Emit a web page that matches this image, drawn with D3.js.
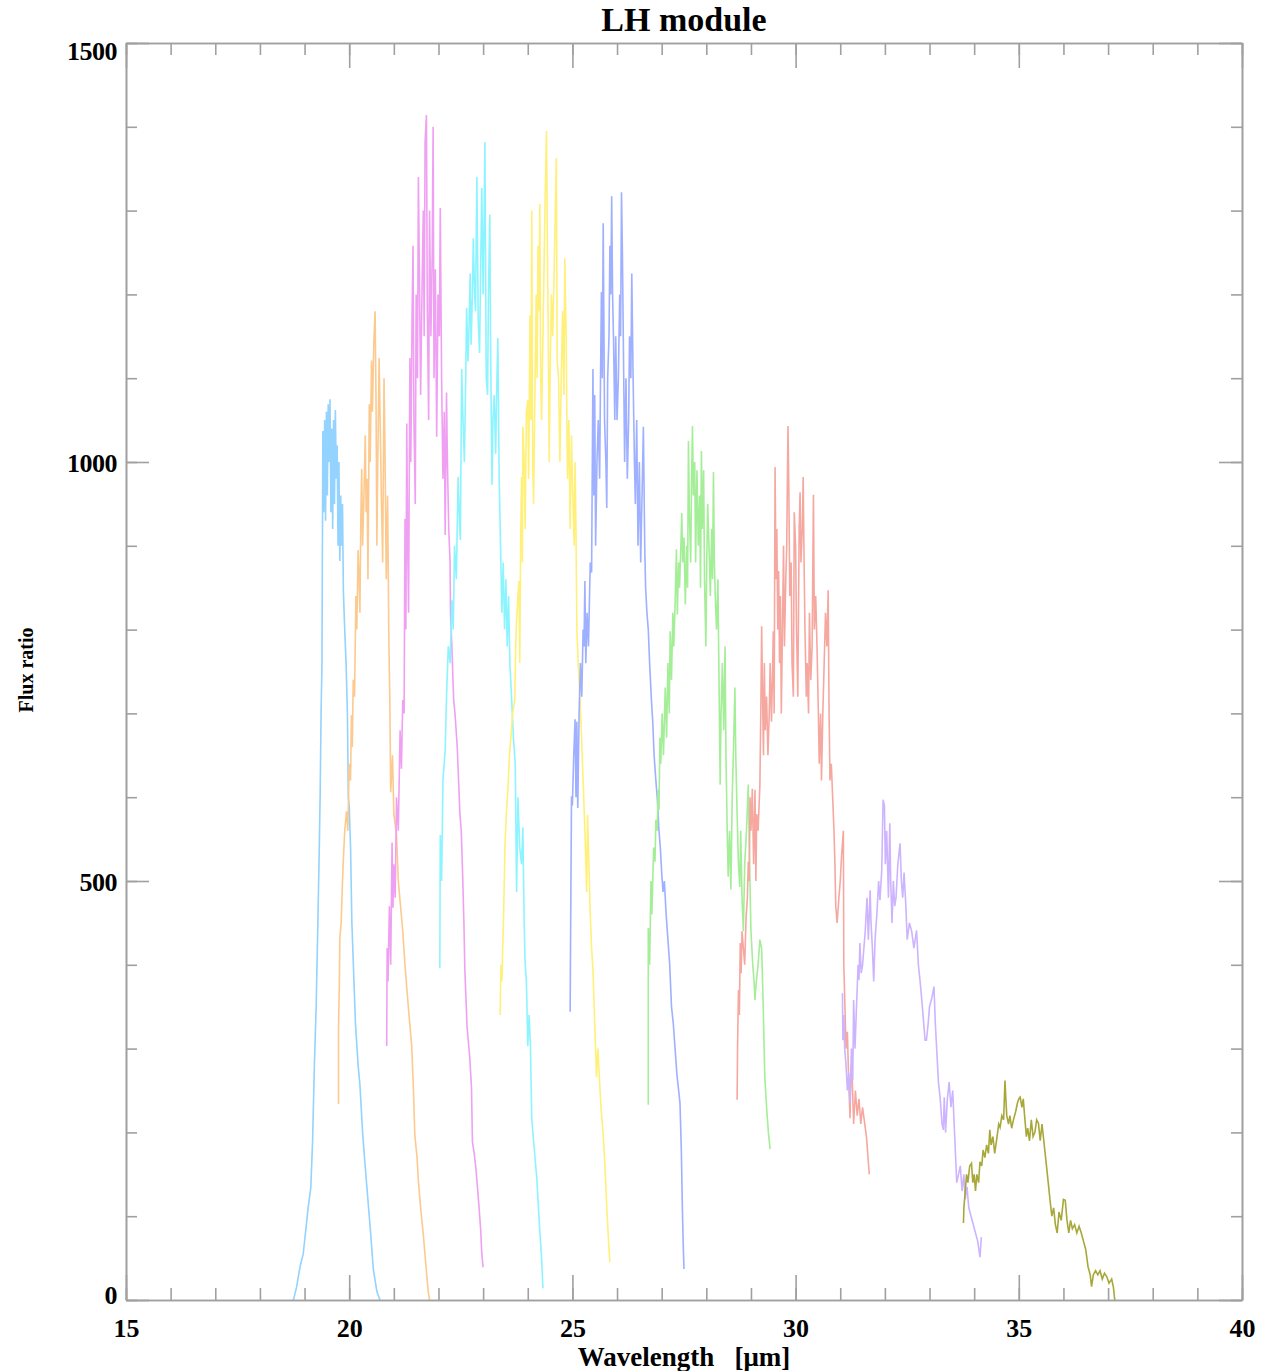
<!DOCTYPE html>
<html>
<head>
<meta charset="utf-8">
<script src="https://cdn.jsdelivr.net/npm/d3@7"></script>
<style>
  html, body { margin: 0; padding: 0; background: #ffffff; }
  svg { display: block; }
  text { font-family: "Liberation Serif", "DejaVu Serif", serif; font-weight: bold; fill: #000; }
</style>
</head>
<body>
<svg id="chart" width="1265" height="1371"></svg>
<script>
// ---------------- DATA ----------------
const titleText = "LH module";
const xTitle = "Wavelength   [\u03bcm]";
const yTitle = "Flux ratio";
const xTicks = [15, 20, 25, 30, 35, 40];
const yTicks = [0, 500, 1000, 1500];
const xDomain = [15, 40];
const yDomain = [0, 1500];

// spectral orders: [wavelength (um), flux ratio]
const order1 = [[18.75,0],[18.82,15],[18.9,40],[18.97,55],[19.02,80],[19.08,110],[19.14,134],[19.18,190],[19.22,280],[19.26,350],[19.3,455],[19.33,540],[19.35,606],[19.37,700],[19.39,760],[19.41,1037],[19.43,940],[19.45,1050],[19.47,930],[19.49,1060],[19.51,960],[19.53,1069],[19.55,1000],[19.57,1075],[19.59,940],[19.61,1040],[19.63,920],[19.65,1050],[19.67,950],[19.69,1062],[19.71,980],[19.73,1020],[19.75,900],[19.77,1000],[19.79,882],[19.81,960],[19.83,900],[19.85,950],[19.87,845],[19.9,800],[19.93,760],[19.96,700],[19.98,600],[20.0,590],[20.03,541],[20.06,450],[20.09,405],[20.14,330],[20.2,280],[20.24,257],[20.3,200],[20.35,165],[20.42,119],[20.48,80],[20.54,37],[20.62,10],[20.69,0]];
const order2 = [[19.76,234],[19.76,321],[19.78,380],[19.79,432],[19.82,450],[19.85,500],[19.87,527],[19.9,560],[19.94,583],[19.97,560],[20.0,640],[20.03,620],[20.05,698],[20.07,660],[20.09,740],[20.12,720],[20.15,840],[20.17,800],[20.2,895],[20.22,860],[20.24,820],[20.26,930],[20.28,992],[20.3,900],[20.33,960],[20.36,1032],[20.38,940],[20.4,980],[20.42,860],[20.45,1069],[20.47,1000],[20.5,1121],[20.52,1060],[20.55,1140],[20.58,1180],[20.6,1080],[20.62,900],[20.64,1000],[20.67,1124],[20.69,1060],[20.72,960],[20.75,880],[20.78,1100],[20.8,1024],[20.83,860],[20.86,960],[20.89,780],[20.91,716],[20.93,606],[20.97,650],[21.0,580],[21.06,555],[21.1,500],[21.15,470],[21.2,440],[21.25,400],[21.29,372],[21.34,340],[21.4,303],[21.44,250],[21.47,197],[21.52,170],[21.55,142],[21.6,110],[21.66,78],[21.72,40],[21.77,10],[21.8,0]];
const order3 = [[20.84,303],[20.85,420],[20.87,380],[20.9,470],[20.93,400],[20.96,546],[20.98,468],[21.0,520],[21.03,480],[21.06,600],[21.1,560],[21.14,680],[21.17,634],[21.2,716],[21.23,700],[21.25,932],[21.27,800],[21.29,1046],[21.31,900],[21.33,820],[21.36,1124],[21.38,1000],[21.41,1180],[21.43,1258],[21.45,1050],[21.48,950],[21.5,1200],[21.53,1100],[21.55,1340],[21.57,1240],[21.6,1080],[21.63,1200],[21.66,1300],[21.68,1150],[21.7,1382],[21.73,1414],[21.75,1180],[21.78,1050],[21.8,1300],[21.83,1150],[21.86,1250],[21.88,1400],[21.9,1100],[21.93,1230],[21.96,1030],[21.99,1200],[22.02,1150],[22.04,1303],[22.07,1100],[22.1,980],[22.13,1060],[22.15,913],[22.18,1083],[22.2,1000],[22.23,920],[22.26,880],[22.27,817],[22.3,780],[22.34,716],[22.37,700],[22.42,660],[22.44,634],[22.48,580],[22.51,560],[22.54,510],[22.57,450],[22.59,395],[22.64,326],[22.7,290],[22.74,253],[22.76,189],[22.8,175],[22.84,156],[22.88,130],[22.91,110],[22.95,80],[22.97,55],[23.0,39]];
const order4 = [[22.03,396],[22.04,555],[22.07,500],[22.1,620],[22.15,656],[22.18,720],[22.22,780],[22.26,760],[22.3,835],[22.33,800],[22.36,900],[22.4,860],[22.44,982],[22.47,930],[22.49,907],[22.52,1111],[22.55,1050],[22.58,1000],[22.61,1100],[22.63,1184],[22.66,1120],[22.68,1150],[22.71,1225],[22.73,1140],[22.76,1200],[22.78,1267],[22.81,1200],[22.83,1180],[22.86,1340],[22.89,1170],[22.92,1130],[22.95,1250],[22.97,1327],[23.0,1200],[23.02,1280],[23.04,1382],[23.07,1100],[23.1,1080],[23.12,1200],[23.15,1295],[23.17,1120],[23.2,973],[23.22,1050],[23.25,1080],[23.28,1010],[23.31,1100],[23.33,1148],[23.36,980],[23.39,900],[23.42,820],[23.45,880],[23.48,800],[23.51,860],[23.54,780],[23.57,840],[23.6,758],[23.64,716],[23.68,670],[23.72,640],[23.75,487],[23.78,600],[23.82,540],[23.86,520],[23.89,564],[23.92,450],[23.94,403],[23.97,380],[24.0,303],[24.03,340],[24.06,303],[24.09,216],[24.13,190],[24.17,165],[24.2,147],[24.24,110],[24.27,82],[24.31,50],[24.34,14]];
const order5 = [[23.38,340],[23.4,400],[23.42,380],[23.44,422],[23.46,463],[23.49,542],[23.52,580],[23.56,615],[23.59,650],[23.62,670],[23.66,700],[23.71,716],[23.73,780],[23.75,812],[23.78,840],[23.8,858],[23.82,760],[23.84,900],[23.86,982],[23.88,880],[23.89,1042],[23.92,1000],[23.94,920],[23.97,1060],[24.0,1074],[24.02,980],[24.05,1175],[24.07,1050],[24.09,1300],[24.11,1000],[24.13,950],[24.16,1080],[24.19,1200],[24.21,1100],[24.23,1258],[24.25,1180],[24.27,1308],[24.29,1100],[24.31,1050],[24.34,1150],[24.37,1250],[24.39,1317],[24.42,1395],[24.44,1250],[24.46,1150],[24.48,1000],[24.5,1100],[24.53,1200],[24.56,1150],[24.6,1250],[24.64,1363],[24.66,1120],[24.69,1100],[24.72,1000],[24.75,1100],[24.78,1180],[24.81,1080],[24.83,1243],[24.86,1150],[24.89,980],[24.92,1050],[24.95,920],[24.98,1032],[25.01,960],[25.04,900],[25.06,1000],[25.08,920],[25.1,800],[25.13,760],[25.17,716],[25.2,680],[25.24,620],[25.28,560],[25.32,487],[25.34,579],[25.37,520],[25.4,460],[25.43,420],[25.46,395],[25.5,330],[25.54,266],[25.57,300],[25.6,270],[25.64,230],[25.69,197],[25.73,160],[25.77,110],[25.81,70],[25.84,45]];
const order6 = [[24.95,344],[24.96,440],[24.97,520],[24.98,601],[25.0,590],[25.03,650],[25.06,693],[25.08,600],[25.1,690],[25.12,587],[25.15,700],[25.18,760],[25.21,720],[25.24,800],[25.26,780],[25.28,858],[25.3,760],[25.33,820],[25.36,780],[25.4,880],[25.43,868],[25.46,1111],[25.48,960],[25.5,1080],[25.52,900],[25.55,1000],[25.58,1050],[25.61,980],[25.63,1100],[25.65,1203],[25.67,1100],[25.69,1285],[25.72,1050],[25.75,1000],[25.77,945],[25.79,1100],[25.82,1150],[25.84,1258],[25.86,1200],[25.88,1317],[25.9,1200],[25.92,1150],[25.95,1050],[25.97,1150],[26.0,1050],[26.03,1100],[26.06,1200],[26.08,1150],[26.1,1322],[26.12,1250],[26.15,1100],[26.17,1000],[26.2,1100],[26.23,980],[26.26,1050],[26.28,1150],[26.31,1100],[26.33,1225],[26.36,1100],[26.39,1000],[26.41,950],[26.44,1050],[26.47,900],[26.5,1000],[26.53,880],[26.56,960],[26.59,1042],[26.62,900],[26.64,850],[26.67,820],[26.7,800],[26.73,760],[26.77,716],[26.8,690],[26.83,650],[26.87,620],[26.9,600],[26.94,560],[26.97,540],[27.0,510],[27.03,487],[27.06,500],[27.1,460],[27.14,430],[27.18,400],[27.22,350],[27.26,330],[27.3,300],[27.34,270],[27.38,250],[27.41,235],[27.44,180],[27.46,120],[27.48,70],[27.5,37]];
const order7 = [[26.7,233],[26.7,444],[26.73,400],[26.76,500],[26.78,460],[26.82,540],[26.85,523],[26.87,573],[26.9,560],[26.92,609],[26.94,585],[26.96,671],[26.98,640],[27.01,700],[27.04,650],[27.08,731],[27.11,671],[27.14,760],[27.17,700],[27.19,798],[27.22,740],[27.25,820],[27.27,780],[27.3,829],[27.33,896],[27.35,818],[27.38,880],[27.4,850],[27.43,900],[27.45,939],[27.47,880],[27.5,910],[27.53,830],[27.56,900],[27.58,850],[27.6,1025],[27.62,940],[27.65,880],[27.67,980],[27.69,1043],[27.71,960],[27.74,1000],[27.76,880],[27.79,990],[27.82,900],[27.85,960],[27.87,850],[27.89,1013],[27.91,920],[27.94,990],[27.96,860],[27.99,780],[28.01,880],[28.03,950],[28.06,900],[28.09,840],[28.12,920],[28.14,860],[28.16,988],[28.18,880],[28.2,840],[28.23,800],[28.26,860],[28.28,760],[28.31,615],[28.33,700],[28.36,760],[28.39,680],[28.42,780],[28.44,650],[28.47,554],[28.49,505],[28.52,560],[28.55,490],[28.58,600],[28.61,660],[28.64,731],[28.66,650],[28.69,580],[28.72,520],[28.75,493],[28.77,560],[28.8,480],[28.83,440],[28.86,520],[28.9,560],[28.94,615],[28.97,520],[29.0,440],[29.04,400],[29.07,380],[29.09,358],[29.12,380],[29.16,400],[29.2,430],[29.24,419],[29.27,360],[29.31,266],[29.35,230],[29.39,200],[29.43,180]];
const order8 = [[28.69,239],[28.7,303],[28.72,370],[28.74,340],[28.76,426],[28.78,390],[28.8,440],[28.83,420],[28.86,400],[28.89,456],[28.92,480],[28.94,523],[28.96,500],[28.98,600],[29.0,560],[29.03,610],[29.06,520],[29.09,609],[29.11,500],[29.13,580],[29.16,560],[29.2,615],[29.22,700],[29.24,804],[29.26,720],[29.28,650],[29.3,760],[29.32,680],[29.35,720],[29.38,650],[29.41,700],[29.43,760],[29.46,690],[29.48,740],[29.5,798],[29.52,700],[29.54,994],[29.56,860],[29.58,920],[29.6,800],[29.62,870],[29.64,760],[29.66,840],[29.68,700],[29.7,780],[29.73,900],[29.75,780],[29.78,860],[29.8,896],[29.83,1043],[29.85,960],[29.87,840],[29.9,880],[29.92,760],[29.95,720],[29.97,940],[30.0,900],[30.02,800],[30.05,720],[30.08,920],[30.1,964],[30.12,880],[30.15,920],[30.17,982],[30.19,880],[30.21,800],[30.24,720],[30.26,760],[30.29,700],[30.31,820],[30.34,740],[30.37,780],[30.4,961],[30.42,800],[30.45,840],[30.48,780],[30.51,700],[30.53,640],[30.56,700],[30.58,620],[30.61,700],[30.64,760],[30.67,820],[30.7,780],[30.73,847],[30.75,700],[30.77,620],[30.8,640],[30.83,600],[30.86,560],[30.88,523],[30.9,470],[30.93,450],[30.97,480],[31.0,500],[31.03,530],[31.07,560],[31.08,401],[31.1,360],[31.13,300],[31.16,320],[31.19,260],[31.22,217],[31.24,280],[31.27,260],[31.3,210],[31.34,250],[31.38,220],[31.42,240],[31.46,210],[31.5,230],[31.55,210],[31.59,193],[31.65,150]];
const order9 = [[31.05,366],[31.06,310],[31.08,340],[31.1,300],[31.13,280],[31.16,250],[31.19,271],[31.22,235],[31.25,300],[31.28,262],[31.3,358],[31.33,300],[31.37,358],[31.4,400],[31.42,382],[31.44,426],[31.47,390],[31.5,400],[31.53,420],[31.56,440],[31.6,480],[31.63,430],[31.67,489],[31.69,450],[31.72,420],[31.75,380],[31.78,430],[31.82,460],[31.86,500],[31.89,477],[31.93,513],[31.96,597],[31.99,590],[32.01,520],[32.04,560],[32.08,480],[32.11,569],[32.13,500],[32.16,450],[32.19,500],[32.22,470],[32.25,480],[32.29,520],[32.34,545],[32.37,500],[32.4,480],[32.43,510],[32.47,470],[32.5,430],[32.55,450],[32.6,440],[32.65,420],[32.71,441],[32.75,400],[32.79,380],[32.84,350],[32.9,310],[32.93,310],[32.97,330],[33.0,350],[33.05,360],[33.1,374],[33.13,330],[33.17,290],[33.2,260],[33.24,240],[33.28,210],[33.31,203],[33.33,242],[33.36,200],[33.4,240],[33.44,260],[33.48,230],[33.52,250],[33.56,200],[33.61,140],[33.65,150],[33.69,160],[33.73,130],[33.77,150],[33.8,120],[33.84,135],[33.88,110],[33.93,100],[33.98,90],[34.03,80],[34.08,70],[34.13,51],[34.16,75]];
const order10 = [[33.76,92],[33.77,110],[33.8,130],[33.83,150],[33.86,140],[33.9,160],[33.94,163],[33.97,140],[34.0,150],[34.03,130],[34.06,150],[34.1,140],[34.13,165],[34.17,160],[34.2,179],[34.24,170],[34.28,185],[34.32,175],[34.35,203],[34.38,185],[34.42,195],[34.46,175],[34.5,190],[34.55,210],[34.58,206],[34.62,220],[34.66,215],[34.69,262],[34.71,240],[34.73,220],[34.77,210],[34.8,220],[34.84,205],[34.88,215],[34.93,225],[34.97,235],[35.0,240],[35.03,242],[35.07,230],[35.1,240],[35.13,220],[35.17,195],[35.2,205],[35.24,190],[35.28,215],[35.32,195],[35.36,200],[35.4,215],[35.44,211],[35.48,190],[35.52,210],[35.56,190],[35.6,170],[35.64,150],[35.7,119],[35.74,100],[35.78,110],[35.82,90],[35.86,80],[35.9,105],[35.95,95],[36.0,120],[36.04,119],[36.08,95],[36.12,80],[36.16,95],[36.2,85],[36.25,90],[36.3,80],[36.35,88],[36.4,80],[36.45,70],[36.5,60],[36.55,40],[36.6,30],[36.63,16],[36.67,30],[36.72,35],[36.77,30],[36.82,35],[36.87,25],[36.92,32],[36.97,28],[37.02,20],[37.08,25],[37.12,15],[37.15,0]];

const orders = [order1, order2, order3, order4, order5, order6, order7, order8, order9, order10];
const orderColors = ["#94d2ff", "#fcca8e", "#f0a0f2", "#8cf4ff", "#fff07a", "#9eb0ff", "#a4ee98", "#f6a8a0", "#cdb4ff", "#a8a83a"];

// ---------------- LAYOUT ----------------
const svg = d3.select("#chart");
const M = { left: 126, right: 1242, top: 43, bottom: 1300 };
const x = d3.scaleLinear().domain(xDomain).range([M.left, M.right]);
const y = d3.scaleLinear().domain(yDomain).range([M.bottom, M.top]);

const axisColor = "#a0a0a0";

// series
const line = d3.line().x(d => x(d[0])).y(d => y(d[1]));
svg.append("g").selectAll("path").data(orders).join("path")
  .attr("d", line)
  .attr("fill", "none")
  .attr("stroke", (d, i) => orderColors[i])
  .attr("stroke-width", 1.6)
  .attr("stroke-linejoin", "miter");

function styleAxis(g) {
  g.selectAll(".domain").attr("stroke", axisColor).attr("stroke-width", 1.6);
  g.selectAll(".tick line").attr("stroke", axisColor).attr("stroke-width", 1.6);
}

const xMinor = d3.range(15, 41, 1);
const yMinor = d3.range(0, 1501, 100);

// bottom axis minor
svg.append("g").attr("transform", `translate(0,${M.bottom})`)
  .call(d3.axisBottom(x).tickValues(xMinor).tickSize(-12).tickSizeOuter(0).tickFormat(""))
  .call(styleAxis);
// bottom axis major with labels
const gxb = svg.append("g").attr("transform", `translate(0,${M.bottom})`)
  .call(d3.axisBottom(x).tickValues(xTicks).tickSize(-25).tickSizeOuter(0).tickPadding(0).tickFormat(d3.format("d")))
  .call(styleAxis);
gxb.selectAll(".tick text").attr("y", 37).attr("dy", 0)
  .style("font-family", '"Liberation Serif", serif').style("font-weight", "bold")
  .style("font-size", "26px").attr("fill", "#000");

// top axis
svg.append("g").attr("transform", `translate(0,${M.top})`)
  .call(d3.axisTop(x).tickValues(xMinor).tickSize(-12).tickSizeOuter(0).tickFormat(""))
  .call(styleAxis);
svg.append("g").attr("transform", `translate(0,${M.top})`)
  .call(d3.axisTop(x).tickValues(xTicks).tickSize(-25).tickSizeOuter(0).tickFormat(""))
  .call(styleAxis);

// left axis
svg.append("g").attr("transform", `translate(${M.left},0)`)
  .call(d3.axisLeft(y).tickValues(yMinor).tickSize(-11).tickSizeOuter(0).tickFormat(""))
  .call(styleAxis);
const gyl = svg.append("g").attr("transform", `translate(${M.left},0)`)
  .call(d3.axisLeft(y).tickValues(yTicks).tickSize(-23).tickSizeOuter(0).tickPadding(0).tickFormat(d3.format("d")))
  .call(styleAxis);
gyl.selectAll(".tick text").attr("x", -9).attr("dy", "0.35em")
  .style("font-family", '"Liberation Serif", serif').style("font-weight", "bold")
  .style("font-size", "26px").style("letter-spacing", "-0.5px").attr("fill", "#000");
gyl.selectAll(".tick text").filter(d => d === 1500).attr("dy", "0.65em");
gyl.selectAll(".tick text").filter(d => d === 0).attr("dy", "0.15em");

// right axis
svg.append("g").attr("transform", `translate(${M.right},0)`)
  .call(d3.axisRight(y).tickValues(yMinor).tickSize(-11).tickSizeOuter(0).tickFormat(""))
  .call(styleAxis);
svg.append("g").attr("transform", `translate(${M.right},0)`)
  .call(d3.axisRight(y).tickValues(yTicks).tickSize(-23).tickSizeOuter(0).tickFormat(""))
  .call(styleAxis);

// titles
svg.append("text").attr("x", (M.left + M.right) / 2).attr("y", 31)
  .attr("text-anchor", "middle").style("font-size", "34px").text(titleText);
svg.append("text").attr("x", 684).attr("y", 1366)
  .attr("text-anchor", "middle").style("font-size", "27px").attr("xml:space", "preserve")
  .style("white-space", "pre").text(xTitle);
svg.append("text").attr("transform", "translate(33,670) rotate(-90)")
  .attr("text-anchor", "middle").style("font-size", "20px").text(yTitle);
</script>
</body>
</html>
